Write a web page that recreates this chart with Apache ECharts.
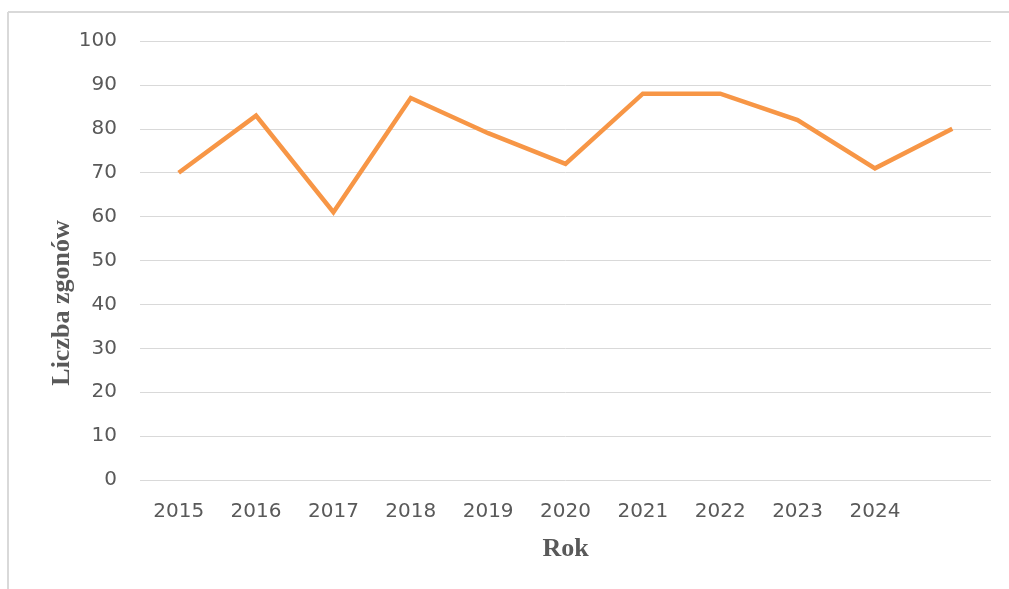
<!DOCTYPE html>
<html>
<head>
<meta charset="utf-8">
<script src="https://cdn.jsdelivr.net/npm/echarts@6/dist/echarts.min.js"></script>
<style>
  html, body { margin: 0; padding: 0; background: #fff; }
  #chart { width: 1009px; height: 589px; }
</style>
</head>
<body>
<div id="chart"></div>
<script>
// lata (ostatni punkt bez etykiety na osi)
let years = ['2015', '2016', '2017', '2018', '2019', '2020', '2021', '2022', '2023', '2024', ''];
let deaths = [70, 83, 61, 87, 79, 72, 88, 88, 82, 71, 80];
let yTicks = { min: 0, max: 100, interval: 10 };

let gray = '#595959';

let option = {
    animation: false,
    backgroundColor: '#fff',
    grid: {
        left: 140,
        right: 18,
        top: 41,
        bottom: 109
    },
    graphic: [
        // ramka wykresu (góra i lewa strona)
        {
            type: 'line',
            shape: { x1: 8, y1: 12, x2: 1009, y2: 12 },
            style: { stroke: '#d9d9d9', lineWidth: 2 }
        },
        {
            type: 'line',
            shape: { x1: 8, y1: 12, x2: 8, y2: 589 },
            style: { stroke: '#d9d9d9', lineWidth: 2 }
        },
        {
            type: 'text',
            x: 62,
            y: 303,
            rotation: Math.PI / 2,
            style: {
                text: 'Liczba zgonów',
                fontFamily: 'Liberation Serif',
                fontWeight: 'bold',
                fontSize: 26,
                fill: gray,
                align: 'center',
                verticalAlign: 'middle'
            }
        }
    ],
    xAxis: {
        type: 'category',
        data: years,
        boundaryGap: true,
        name: 'Rok',
        nameLocation: 'middle',
        nameGap: 56,
        nameTextStyle: {
            fontFamily: 'Liberation Serif',
            fontWeight: 'bold',
            fontSize: 26,
            color: gray
        },
        axisLine: { show: false },
        axisTick: { show: false },
        axisLabel: {
            interval: 0,
            margin: 22,
            fontFamily: 'DejaVu Sans',
            fontSize: 20,
            color: gray
        },
        splitLine: { show: false }
    },
    yAxis: {
        type: 'value',
        min: yTicks.min,
        max: yTicks.max,
        interval: yTicks.interval,
        axisLine: { show: false },
        axisTick: { show: false },
        axisLabel: {
            margin: 23,
            fontFamily: 'DejaVu Sans',
            fontSize: 20,
            color: gray
        },
        splitLine: {
            lineStyle: { color: '#d9d9d9', width: 1 }
        }
    },
    series: [{
        type: 'line',
        data: deaths,
        symbol: 'none',
        lineStyle: {
            color: '#f79646',
            width: 4.5,
            join: 'miter'
        }
    }]
};

echarts.init(document.getElementById('chart')).setOption(option);
</script>
</body>
</html>
